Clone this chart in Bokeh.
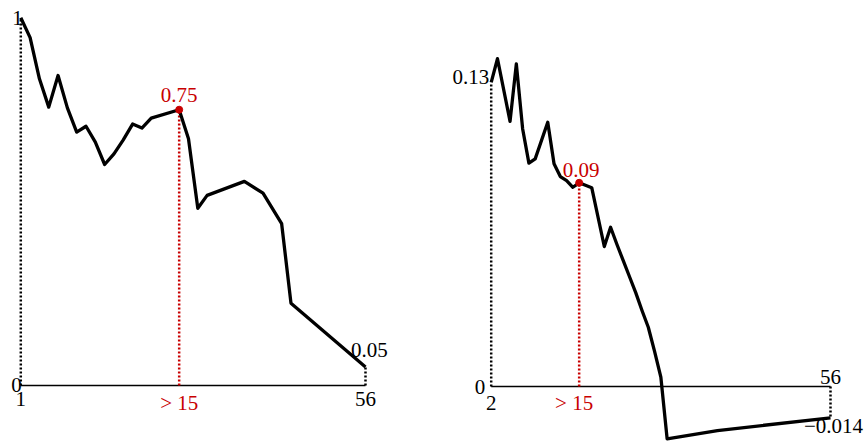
from bokeh.plotting import figure
from bokeh.layouts import row
from bokeh.models import Range1d
from bokeh.core.properties import value
from bokeh.embed import file_html
from bokeh.resources import INLINE

# ---------------- data ----------------
# left panel: points are evenly spaced by rank; ticks show the underlying x values
left_rank = [0, 1, 2, 3, 4, 5, 6, 7, 8, 9, 10, 11, 12, 13, 14, 17, 18, 19, 20, 24, 26, 28, 29, 37]
left_value = [1.0, 0.946, 0.834, 0.757, 0.843, 0.755, 0.689, 0.705, 0.662, 0.601, 0.630,
              0.668, 0.711, 0.700, 0.727, 0.75, 0.671, 0.482, 0.517, 0.555, 0.523, 0.440,
              0.224, 0.05]
left_tick_labels = ["1", "56"]
left_first_label = "1"
left_last_label = "0.05"
left_zero_label = "0"
left_mark_index = 15          # position in the lists of the highlighted point
left_mark_label = "0.75"
left_mark_tick = "> 15"

# right panel
right_x = [2, 3, 5, 6, 7, 8, 9, 11, 12, 13, 14, 15, 16, 18, 20, 21, 22, 23, 24, 25, 26,
           27, 28, 29, 30, 38, 56]
right_value = [0.136, 0.1466, 0.1186, 0.1443, 0.1153, 0.0999, 0.1018, 0.1182, 0.0996,
               0.0939, 0.0921, 0.0891, 0.0911, 0.0889, 0.0626, 0.0712, 0.0636, 0.0564,
               0.0492, 0.0420, 0.0340, 0.0265, 0.0157, 0.0042, -0.0234, -0.0197, -0.0140]
right_tick_labels = ["2", "56"]
right_first_label = "0.13"
right_last_label = "\u22120.014"
right_zero_label = "0"
right_mark_index = 12
right_mark_label = "0.09"
right_mark_tick = "> 15"

# ---------------- style ----------------
FONT = value("Liberation Serif")
FS = "21px"
RED = "#c80000"
H = 441


def base_figure(width, xr, yr):
    p = figure(width=width, height=H, output_backend="svg", toolbar_location=None,
               x_range=Range1d(*xr), y_range=Range1d(*yr),
               x_axis_location=None, y_axis_location=None, min_border=0,
               outline_line_color=None, background_fill_color="white",
               border_fill_color="white")
    p.xgrid.visible = False
    p.ygrid.visible = False
    return p


def txt(p, x, y, s, align, baseline, dx=0, dy=0, color="black"):
    p.text(x=[x], y=[y], text=[s], text_align=align, text_baseline=baseline,
           x_offset=dx, y_offset=dy, text_font=FONT, text_font_size=FS,
           text_color=color)


def panel(p, xs, ys, mi, labels, off):
    x0, x1 = xs[0], xs[-1]
    # axis line at zero
    p.segment(x0=[x0], y0=[0], x1=[x1], y1=[0], line_color="black", line_width=1.6)
    # dotted droplines at both ends
    p.segment(x0=[x0, x1], y0=[0, 0], x1=[x0, x1], y1=[ys[0], ys[-1]],
              line_color="black", line_width=2.5, line_dash="2 2")
    # red dropline at highlighted point
    p.segment(x0=[xs[mi]], y0=[0], x1=[xs[mi]], y1=[ys[mi]],
              line_color=RED, line_width=2.5, line_dash="2 2")
    # main line
    p.line(xs, ys, line_color="black", line_width=3.3, line_join="round")
    p.scatter([xs[mi]], [ys[mi]], size=7, color=RED)
    first, last, zero, ticks, mlab, mtick = labels
    txt(p, x0, ys[0], first, "right", "middle", *off["first"])
    txt(p, x0, 0, zero, "right", "middle", *off["zero"])
    txt(p, x0, 0, ticks[0], "center", "top", *off["tick0"])
    txt(p, x1, 0, ticks[1], "center", off["tick1_base"], *off["tick1"])
    txt(p, x1, ys[-1], last, "center", off["last_base"], *off["last"])
    txt(p, xs[mi], ys[mi], mlab, "center", "bottom", *off["mark"], color=RED)
    txt(p, xs[mi], 0, mtick, "center", "top", *off["mtick"], color=RED)


# left figure
pl = base_figure(430, (-2.179, 43.978), (-0.1523, 1.0470))
panel(pl, left_rank, left_value, left_mark_index,
      (left_first_label, left_last_label, left_zero_label, left_tick_labels,
       left_mark_label, left_mark_tick),
      {"first": (2, 0), "zero": (1, 0), "tick0": (0, 7), "tick1": (0, 7),
       "tick1_base": "top", "last": (4, -10), "last_base": "bottom",
       "mark": (0, -8), "mtick": (0, 6)})

# right figure
pr = base_figure(436, (-7.6605, 61.729), (-0.0246, 0.17263))
panel(pr, right_x, right_value, right_mark_index,
      (right_first_label, right_last_label, right_zero_label, right_tick_labels,
       right_mark_label, right_mark_tick),
      {"first": (-2, -5), "zero": (-6, 1), "tick0": (0, 10), "tick1": (0, -2),
       "tick1_base": "bottom", "last": (3, 1), "last_base": "top",
       "mark": (2, -6), "mtick": (-5, 5)})

layout = row(pl, pr)
open("out.html", "w").write(file_html(layout, INLINE))
